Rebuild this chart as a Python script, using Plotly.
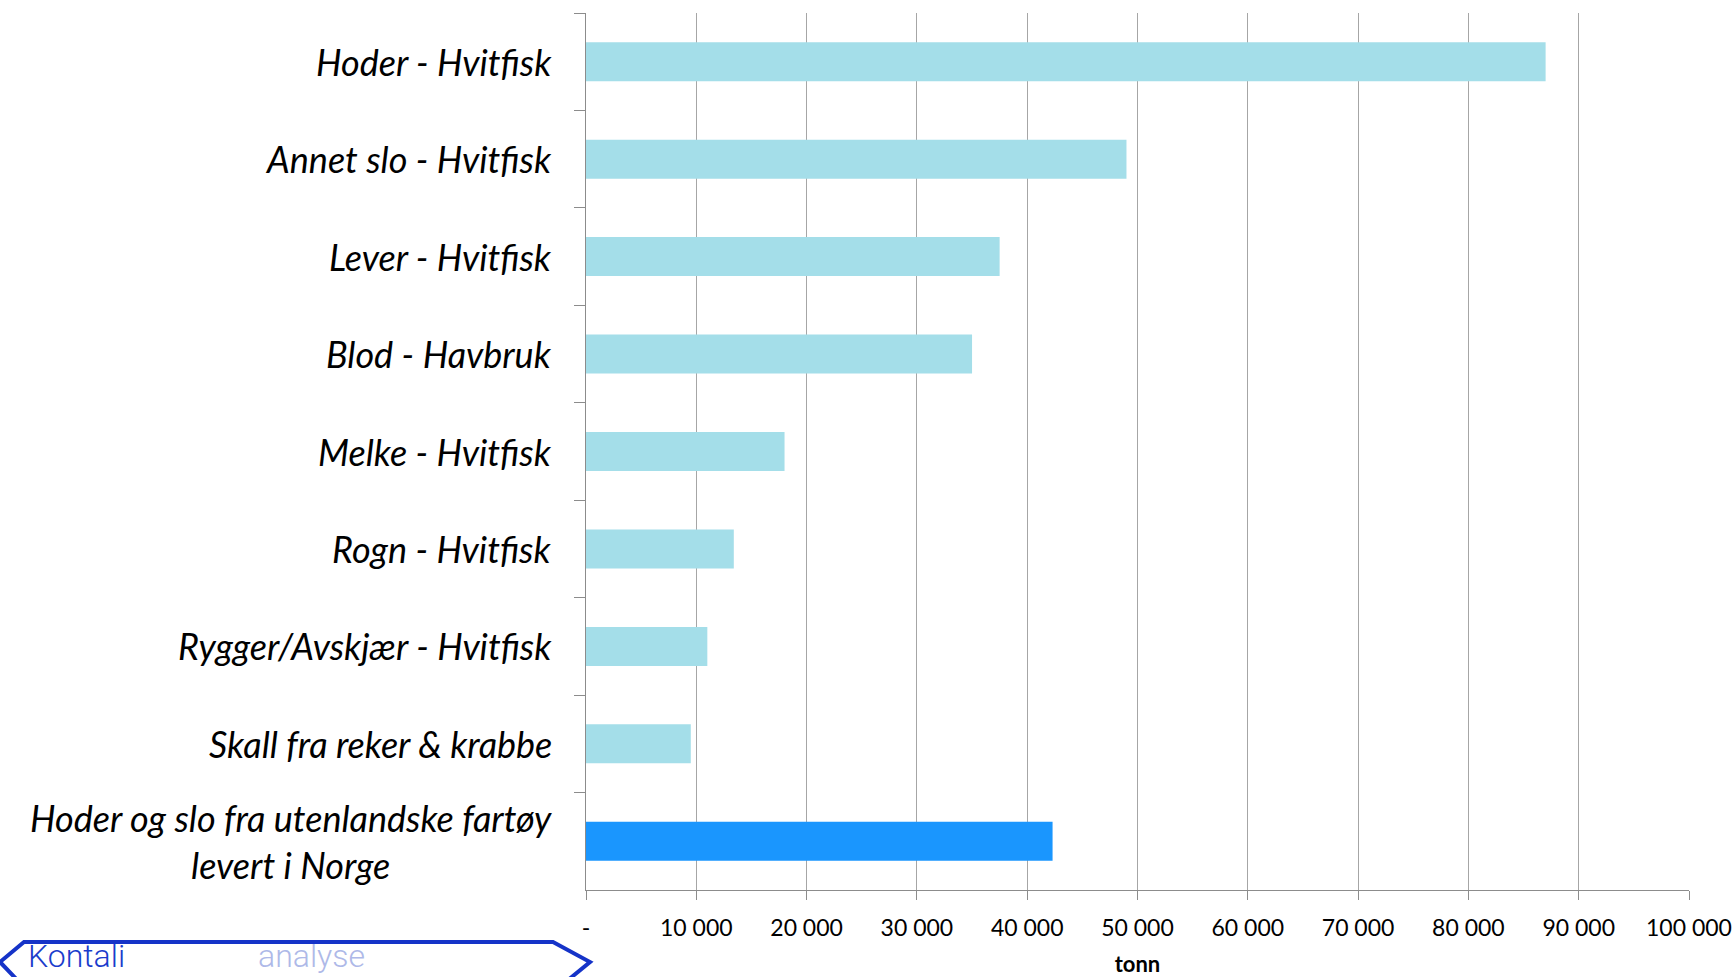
import plotly.graph_objects as go

categories = [
    "Hoder - Hvitfisk",
    "Annet slo - Hvitfisk",
    "Lever - Hvitfisk",
    "Blod - Havbruk",
    "Melke - Hvitfisk",
    "Rogn - Hvitfisk",
    "Rygger/Avskjær - Hvitfisk",
    "Skall fra reker & krabbe",
    "Hoder og slo fra utenlandske fartøy<br>levert i Norge",
]
values = [87000, 49000, 37500, 35000, 18000, 13400, 11000, 9500, 42300]
bar_colors = ["#a4dee9"] * 8 + ["#1a96fe"]

x_tickvals = [0, 10000, 20000, 30000, 40000, 50000, 60000, 70000, 80000, 90000, 100000]
x_ticktext = ["-", "10 000", "20 000", "30 000", "40 000", "50 000", "60 000",
              "70 000", "80 000", "90 000", "100 000"]
x_title = "tonn"

W, H = 1736, 977
L, R, T, B = 586, 1689, 13, 890

fig = go.Figure()
fig.add_trace(go.Bar(
    y=categories, x=values, orientation="h",
    marker=dict(color=bar_colors, line=dict(width=0)),
    width=0.4, showlegend=False, hoverinfo="skip",
))

label_font = dict(family="Lato", size=36, color="#000000")
for c in categories:
    fig.add_annotation(
        x=0, xref="paper", xanchor="right", xshift=-32,
        y=c, yref="y", yanchor="middle",
        text="<i>" + c + "</i>", showarrow=False, align="center",
        font=label_font,
    )

# Logo-like element at bottom-left
def px(xp):
    return (xp - L) / (R - L)
def py(yp):
    return (B - yp) / (B - T)
logo_path = (f"M {px(22)},{py(985)} L {px(0)},{py(962)} L {px(24)},{py(942)} "
             f"L {px(553)},{py(942)} L {px(590)},{py(962)} L {px(562)},{py(985)}")
fig.add_shape(type="path", xref="paper", yref="paper", path=logo_path,
              line=dict(color="#1533c8", width=4))
fig.add_annotation(x=px(26), y=py(956), xref="paper", yref="paper",
                   xanchor="left", yanchor="middle", showarrow=False,
                   text="Kontali", font=dict(family="Roboto", size=32, weight=300, color="#1a3ccc"))
fig.add_annotation(x=px(256), y=py(956), xref="paper", yref="paper",
                   xanchor="left", yanchor="middle", showarrow=False,
                   text="analyse", font=dict(family="Roboto", size=32, weight=300, color="#aeb9e8"))

fig.update_layout(
    width=W, height=H,
    margin=dict(l=L, r=W - R, t=T, b=H - B, autoexpand=False),
    plot_bgcolor="white", paper_bgcolor="white",
    bargap=0.6,
    xaxis=dict(
        range=[0, 100000], tickvals=x_tickvals, ticktext=x_ticktext,
        showgrid=True, gridcolor="#a6a6a6", gridwidth=1,
        showline=True, linecolor="#8c8c8c", linewidth=1,
        ticks="outside", ticklen=9, tickcolor="#8c8c8c",
        tickfont=dict(family="Lato", size=23, color="#000000"),
        ticklabelstandoff=8,
        zeroline=False,
        title=dict(text="<b>" + x_title + "</b>",
                   font=dict(family="Lato", size=22, color="#000000"), standoff=17),
    ),
    yaxis=dict(
        categoryorder="array", categoryarray=categories, autorange="reversed",
        showticklabels=False,
        showline=True, linecolor="#8c8c8c", linewidth=1,
        ticks="outside", ticklen=11, tickcolor="#8c8c8c", tickson="boundaries",
        showgrid=False, zeroline=False,
    ),
)

fig.write_html("out.html", config={"displayModeBar": False},
               post_script="document.body.style.margin='0';")
